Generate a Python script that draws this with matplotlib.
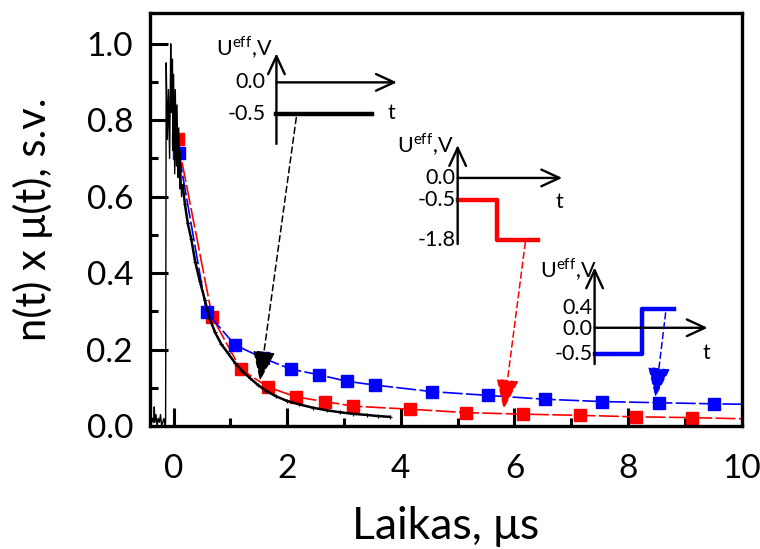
import matplotlib
matplotlib.use('Agg')
import matplotlib.pyplot as plt
from matplotlib.ticker import MultipleLocator

plt.rcParams['font.family'] = ['Lato', 'DejaVu Sans']
plt.rcParams['mathtext.fontset'] = 'custom'
plt.rcParams['mathtext.rm'] = 'Lato'

# black measured trace
black_x = [-0.40, -0.37, -0.35, -0.34, -0.33, -0.31, -0.29, -0.27, -0.25, -0.23, -0.21, -0.19,
           -0.17, -0.15, -0.14, -0.13, -0.11, -0.09, -0.07, -0.05, -0.04, -0.02, -0.01, 0.00,
           0.02, 0.03, 0.05, 0.06, 0.08, 0.09, 0.11, 0.12, 0.14, 0.16, 0.20, 0.25, 0.31, 0.38,
           0.46, 0.55, 0.63, 0.73, 0.84, 0.96, 1.08, 1.20, 1.34, 1.48, 1.63, 1.80, 1.99, 2.20,
           2.45, 2.70, 2.93, 3.15, 3.40, 3.60, 3.81]
black_y = [0.00, 0.02, 0.01, 0.05, 0.01, 0.03, 0.00, 0.02, 0.01, 0.03, 0.00, 0.01,
           0.02, 0.00, 0.01, 0.95, 0.75, 0.88, 0.70, 1.00, 0.82, 0.96, 0.72, 0.92,
           0.66, 0.88, 0.68, 0.84, 0.65, 0.78, 0.62, 0.72, 0.60, 0.63, 0.58, 0.53, 0.49, 0.43,
           0.38, 0.33, 0.283, 0.245, 0.214, 0.19, 0.165, 0.145, 0.126, 0.108, 0.092, 0.078, 0.066, 0.057,
           0.048, 0.041, 0.036, 0.032, 0.029, 0.026, 0.024]
n_noisy = 34  # points of the noisy spike part (drawn thinner)

# red series (U = -0.5 V then -1.8 V)
red_x = [0.07, 0.68, 1.18, 1.66, 2.16, 2.66, 3.16, 4.16, 5.15, 6.15, 7.15, 8.14, 9.13, 10.0]
red_y = [0.75, 0.285, 0.149, 0.102, 0.076, 0.064, 0.052, 0.044, 0.035, 0.031, 0.028, 0.024, 0.022, 0.019]

# blue series (U = -0.5 V then +0.4 V)
blue_x = [0.09, 0.58, 1.08, 1.57, 2.06, 2.56, 3.05, 3.55, 4.55, 5.54, 6.54, 7.54, 8.54, 9.52, 10.0]
blue_y = [0.715, 0.298, 0.212, 0.178, 0.149, 0.134, 0.117, 0.107, 0.090, 0.080, 0.070, 0.064, 0.061, 0.058, 0.057]

fig = plt.figure(figsize=(7.6, 5.49), dpi=100)
ax = fig.add_axes([0.197, 0.224, 0.779, 0.752])

ax.plot(black_x[:n_noisy], black_y[:n_noisy], color='black', lw=1.0, zorder=3)
ax.plot(black_x[n_noisy - 1:], black_y[n_noisy - 1:], color='black', lw=1.8, zorder=3,
        marker='+', markersize=3, markeredgewidth=0.8)
ax.plot(red_x, red_y, color='red', lw=1.2, linestyle=(0, (12, 2)),
        marker='s', markersize=8.5, markevery=list(range(len(red_x) - 1)), zorder=2)
ax.plot(blue_x, blue_y, color='blue', lw=1.2, linestyle=(0, (12, 2)),
        marker='s', markersize=8.5, markevery=list(range(len(blue_x) - 1)), zorder=2.5)

ax.set_xlim(-0.42, 10)
ax.set_ylim(0, 1.08)
ax.xaxis.set_major_locator(MultipleLocator(2))
ax.xaxis.set_minor_locator(MultipleLocator(1))
ax.yaxis.set_major_locator(MultipleLocator(0.2))
ax.yaxis.set_minor_locator(MultipleLocator(0.1))
ax.yaxis.set_major_formatter(plt.FormatStrFormatter('%.1f'))
ax.tick_params(which='major', direction='in', length=13, width=2.2, labelsize=24)
ax.tick_params(axis='x', which='major', pad=20)
ax.tick_params(axis='y', which='major', pad=12)
ax.tick_params(which='minor', direction='in', length=6, width=2.2)
for s in ax.spines.values():
    s.set_linewidth(2.4)

ax.set_xlabel('Laikas, μs', fontsize=32, labelpad=16)
ax.set_ylabel('n(t) x μ(t), s.v.', fontsize=30, labelpad=24)

ins = 15.5
ueff = r'U$^{\mathrm{eff}}$,V'
head = '->,head_length=1.3,head_width=0.6'

def axis_arrows(x0, yb, yt, y0, xr):
    ax.annotate('', xy=(x0, yt), xytext=(x0, yb),
                arrowprops=dict(arrowstyle=head, mutation_scale=10, lw=1.7, color='k',
                                shrinkA=0, shrinkB=0))
    ax.annotate('', xy=(xr, y0), xytext=(x0, y0),
                arrowprops=dict(arrowstyle=head, mutation_scale=10, lw=1.7, color='k',
                                shrinkA=0, shrinkB=0))

def pointer(start, tip, color):
    ax.annotate('', xy=tip, xytext=start,
                arrowprops=dict(arrowstyle='-|>,head_length=1.9,head_width=0.7', mutation_scale=10,
                                linestyle=(0, (4, 2.5)), lw=1.1, color=color, shrinkA=0, shrinkB=0),
                zorder=4)

# inset 1: constant -0.5 V
axis_arrows(1.81, 0.738, 0.975, 0.899, 3.93)
ax.plot([1.81, 3.49], [0.817, 0.817], color='k', lw=3.2)
ax.text(1.62, 0.899, '0.0', ha='right', va='center', fontsize=ins)
ax.text(1.62, 0.817, '-0.5', ha='right', va='center', fontsize=ins)
ax.text(3.77, 0.82, 't', ha='left', va='center', fontsize=ins)
ax.text(1.74, 0.99, ueff, ha='right', va='center', fontsize=ins)
pointer((2.16, 0.807), (1.52, 0.118), 'black')

# inset 2: -0.5 V then -1.8 V
axis_arrows(5.0, 0.476, 0.735, 0.649, 6.84)
ax.plot([5.0, 5.70, 5.70, 6.42], [0.592, 0.592, 0.487, 0.487], color='red', lw=3.2)
ax.text(4.96, 0.649, '0.0', ha='right', va='center', fontsize=ins)
ax.text(4.96, 0.592, '-0.5', ha='right', va='center', fontsize=ins)
ax.text(4.96, 0.487, '-1.8', ha='right', va='center', fontsize=ins)
ax.text(6.72, 0.586, 't', ha='left', va='center', fontsize=ins)
ax.text(4.92, 0.735, ueff, ha='right', va='center', fontsize=ins)
pointer((6.19, 0.48), (5.81, 0.044), 'red')

# inset 3: -0.5 V then +0.4 V
axis_arrows(7.41, 0.162, 0.415, 0.257, 9.4)
ax.plot([7.41, 8.24, 8.24, 8.80], [0.188, 0.188, 0.306, 0.306], color='blue', lw=3.2)
ax.text(7.37, 0.308, '0.4', ha='right', va='center', fontsize=ins)
ax.text(7.37, 0.255, '0.0', ha='right', va='center', fontsize=ins)
ax.text(7.37, 0.188, '-0.5', ha='right', va='center', fontsize=ins)
ax.text(9.31, 0.191, 't', ha='left', va='center', fontsize=ins)
ax.text(7.45, 0.408, ueff, ha='right', va='center', fontsize=ins)
pointer((8.66, 0.296), (8.48, 0.075), 'blue')

fig.savefig('out.png', dpi=100)
